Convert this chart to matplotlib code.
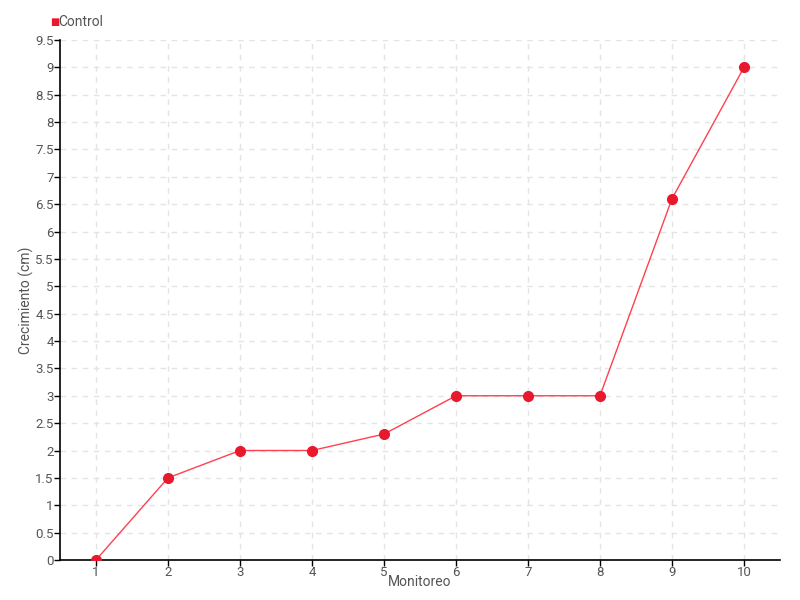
import matplotlib.pyplot as plt
import numpy as np

# Data
monitoreo = ['1', '2', '3', '4', '5', '6', '7', '8', '9', '10']
control = [0, 1.5, 2, 2, 2.3, 3, 3, 3, 6.6, 9]

plt.rcParams['font.family'] = ['Roboto', 'DejaVu Sans']

fig = plt.figure(figsize=(8, 6), dpi=100)
ax = fig.add_axes([0.075, 0.0667, 0.9, 0.8667])

x = np.arange(len(monitoreo))
ax.plot(x, control, color='#ff4050', linewidth=1, zorder=3)
ax.plot(x, control, linestyle='none', marker='o', markersize=7,
        color='#e8192c', zorder=4)

ax.set_xlim(-0.5, len(monitoreo) - 0.5)
ax.set_ylim(0, 9.5)
ax.set_xticks(x)
ax.set_xticklabels(monitoreo)
yt = np.arange(0, 9.51, 0.5)
ax.set_yticks(yt)
ax.set_yticklabels([f'{v:g}' for v in yt])

ax.grid(True, color='#e4e4e4', linestyle=(0, (4, 4)), linewidth=1)
ax.set_axisbelow(True)
for s in ['top', 'right']:
    ax.spines[s].set_visible(False)
for s in ['left', 'bottom']:
    ax.spines[s].set_color('black')
    ax.spines[s].set_linewidth(1.2)
ax.tick_params(colors='#555555', labelsize=9.5, length=4, width=1)
ax.tick_params(axis='both', color='black')
ax.tick_params(axis='y', pad=0.5)
ax.tick_params(axis='x', pad=0)

ax.set_xlabel('Monitoreo', color='#555555', fontsize=10)
ax.set_ylabel('Crecimiento (cm)', color='#555555', fontsize=10)
ax.xaxis.set_label_coords(0.5, -0.028)
ax.yaxis.set_label_coords(-0.036, 0.5)

# legend
fig.text(0.0625, 0.963, '\u25a0', color='#e8192c', fontsize=7,
         ha='left', va='center', family='DejaVu Sans')
fig.text(0.073, 0.963, 'Control', color='#555555', fontsize=10,
         ha='left', va='center')

plt.savefig('out.png')
